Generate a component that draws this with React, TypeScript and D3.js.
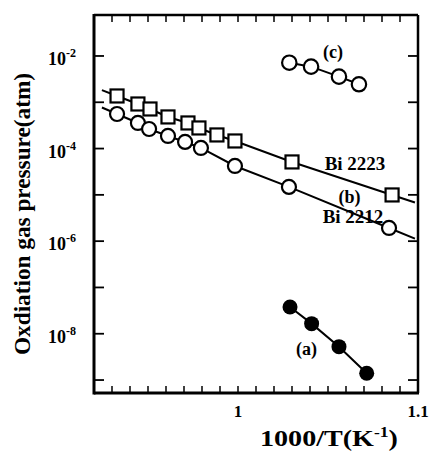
import React from 'react';
import * as d3 from 'd3';

// ---- data (1000/T in K^-1, log10 of oxidation gas pressure in atm) ----
const bi2223X = [0.9328, 0.9444, 0.9511, 0.9611, 0.9722, 0.9783, 0.9883, 0.9983, 1.030, 1.0856];
const bi2223LogP = [-2.864, -3.037, -3.145, -3.317, -3.447, -3.555, -3.706, -3.836, -4.289, -5.002];
const bi2212X = [0.9328, 0.9444, 0.9506, 0.9611, 0.9706, 0.9794, 0.9983, 1.0283, 1.0839];
const bi2212LogP = [-3.253, -3.447, -3.577, -3.728, -3.857, -3.987, -4.376, -4.829, -5.715];
const seriesCX = [1.0285, 1.0406, 1.0561, 1.0672];
const seriesCLogP = [-2.145, -2.231, -2.447, -2.611];
const seriesAX = [1.0289, 1.0409, 1.0561, 1.0715];
const seriesALogP = [-7.421, -7.782, -8.279, -8.853];
const fitRange = [0.9244, 1.0983];

const xDomain = [0.92, 1.1];
const yLogDomain = [-9.28, -1.115];
const xMinorTicks = d3.range(93, 110).map((v) => v / 100);
const xLabelTicks = [1, 1.1];
const xLabelTexts = ['1', '1.1'];
const yDecades = [-9, -8, -7, -6, -5, -4, -3, -2];
const yLabelDecades = [-2, -4, -6, -8];

const W = 430;
const H = 452;
const L = 94, R = 418, T = 15, B = 393;
const FONT = "'Liberation Serif', 'DejaVu Serif', serif";

const x = d3.scaleLinear().domain(xDomain).range([L, R]);
const y = d3.scaleLog().domain([Math.pow(10, yLogDomain[0]), Math.pow(10, yLogDomain[1])]).range([B, T]);

type P = [number, number];
const pts = (xs: number[], ls: number[]): P[] => xs.map((v, i) => [v, Math.pow(10, ls[i])] as P);

function extended(xs: number[], ls: number[]): P[] {
  const n = xs.length;
  const s0 = (ls[1] - ls[0]) / (xs[1] - xs[0]);
  const s1 = (ls[n - 1] - ls[n - 2]) / (xs[n - 1] - xs[n - 2]);
  const l0 = ls[0] + s0 * (fitRange[0] - xs[0]);
  const l1 = ls[n - 1] + s1 * (fitRange[1] - xs[n - 1]);
  return [[fitRange[0], Math.pow(10, l0)], ...pts(xs, ls), [fitRange[1], Math.pow(10, l1)]];
}

const line = d3.line<P>().x((d) => x(d[0])).y((d) => y(d[1]));

export default function App() {
  const s2223 = pts(bi2223X, bi2223LogP);
  const s2212 = pts(bi2212X, bi2212LogP);
  const sc = pts(seriesCX, seriesCLogP);
  const sa = pts(seriesAX, seriesALogP);
  const lw = 2;
  const sq = 13;
  return (
    <svg width={W} height={H} style={{ position: 'absolute', left: 0, top: 0, background: '#fff' }}
      fontFamily={FONT}>
      {/* lines */}
      <path d={line(extended(bi2223X, bi2223LogP)) || ''} fill="none" stroke="#000" strokeWidth={lw} />
      <path d={line(extended(bi2212X, bi2212LogP)) || ''} fill="none" stroke="#000" strokeWidth={lw} />
      <path d={line(sc) || ''} fill="none" stroke="#000" strokeWidth={lw} />
      <path d={line(sa) || ''} fill="none" stroke="#000" strokeWidth={lw} />

      {/* markers */}
      {s2223.map((d, i) => (
        <rect key={'sq' + i} x={x(d[0]) - sq / 2} y={y(d[1]) - sq / 2} width={sq} height={sq}
          fill="#fff" stroke="#000" strokeWidth={2.2} />
      ))}
      {s2212.map((d, i) => (
        <circle key={'ci' + i} cx={x(d[0])} cy={y(d[1])} r={7} fill="#fff" stroke="#000" strokeWidth={2.2} />
      ))}
      {sc.map((d, i) => (
        <circle key={'cc' + i} cx={x(d[0])} cy={y(d[1])} r={7.2} fill="#fff" stroke="#000" strokeWidth={2.2} />
      ))}
      {sa.map((d, i) => (
        <circle key={'ca' + i} cx={x(d[0])} cy={y(d[1])} r={7.5} fill="#000" />
      ))}

      {/* frame */}
      <line x1={L} x2={R} y1={T} y2={T} stroke="#000" strokeWidth={2.5} />
      <line x1={R} x2={R} y1={T} y2={B} stroke="#000" strokeWidth={2.5} />
      <line x1={L} x2={L} y1={T - 1} y2={B + 1.5} stroke="#000" strokeWidth={3} />
      <line x1={L} x2={R + 1} y1={B} y2={B} stroke="#000" strokeWidth={3} />

      {/* x ticks */}
      {xMinorTicks.map((t, i) => (
        <g key={'xt' + i}>
          <line x1={x(t)} x2={x(t)} y1={B} y2={B - 7} stroke="#000" strokeWidth={1.5} />
          <line x1={x(t)} x2={x(t)} y1={T} y2={T + 7} stroke="#000" strokeWidth={1.5} />
        </g>
      ))}
      {xLabelTicks.map((t, i) => (
        <text key={'xl' + i} x={x(t)} y={417} textAnchor="middle" fontSize={17} fontWeight="bold">
          {xLabelTexts[i]}
        </text>
      ))}

      {/* y ticks */}
      {yDecades.map((e, i) => (
        <g key={'yt' + i}>
          <line x1={L} x2={L + 10} y1={y(Math.pow(10, e))} y2={y(Math.pow(10, e))} stroke="#000" strokeWidth={1.8} />
          <line x1={R} x2={R - 10} y1={y(Math.pow(10, e))} y2={y(Math.pow(10, e))} stroke="#000" strokeWidth={1.8} />
        </g>
      ))}
      {yLabelDecades.map((e, i) => (
        <text key={'yl' + i} x={48} y={y(Math.pow(10, e)) + 9} fontSize={18} fontWeight="bold">
          10<tspan fontSize={12} dy={-8}>{String(e)}</tspan>
        </text>
      ))}

      {/* annotations */}
      <text x={x(1.0528)} y={y(Math.pow(10, -2.04))} textAnchor="middle" fontSize={18} fontWeight="bold">(c)</text>
      <text x={x(1.065)} y={y(Math.pow(10, -4.462))} textAnchor="middle" fontSize={19} fontWeight="bold">Bi 2223</text>
      <text x={x(1.062)} y={y(Math.pow(10, -5.175))} textAnchor="middle" fontSize={18} fontWeight="bold">(b)</text>
      <text x={x(1.0639)} y={y(Math.pow(10, -5.6))} textAnchor="middle" fontSize={19} fontWeight="bold">Bi 2212</text>
      <text x={x(1.038)} y={y(Math.pow(10, -8.458))} textAnchor="middle" fontSize={18} fontWeight="bold">(a)</text>

      {/* axis titles */}
      <text x={260} y={446} fontSize={24} fontWeight="bold" textLength={138} lengthAdjust="spacingAndGlyphs">
        1000/T(K<tspan fontSize={15} dy={-9}>-1</tspan><tspan dy={9}>)</tspan>
      </text>
      <text transform="translate(30,214) rotate(-90)" textAnchor="middle" fontSize={23} fontWeight="bold"
        textLength={282} lengthAdjust="spacingAndGlyphs">
        Oxdiation gas pressure(atm)
      </text>
    </svg>
  );
}
